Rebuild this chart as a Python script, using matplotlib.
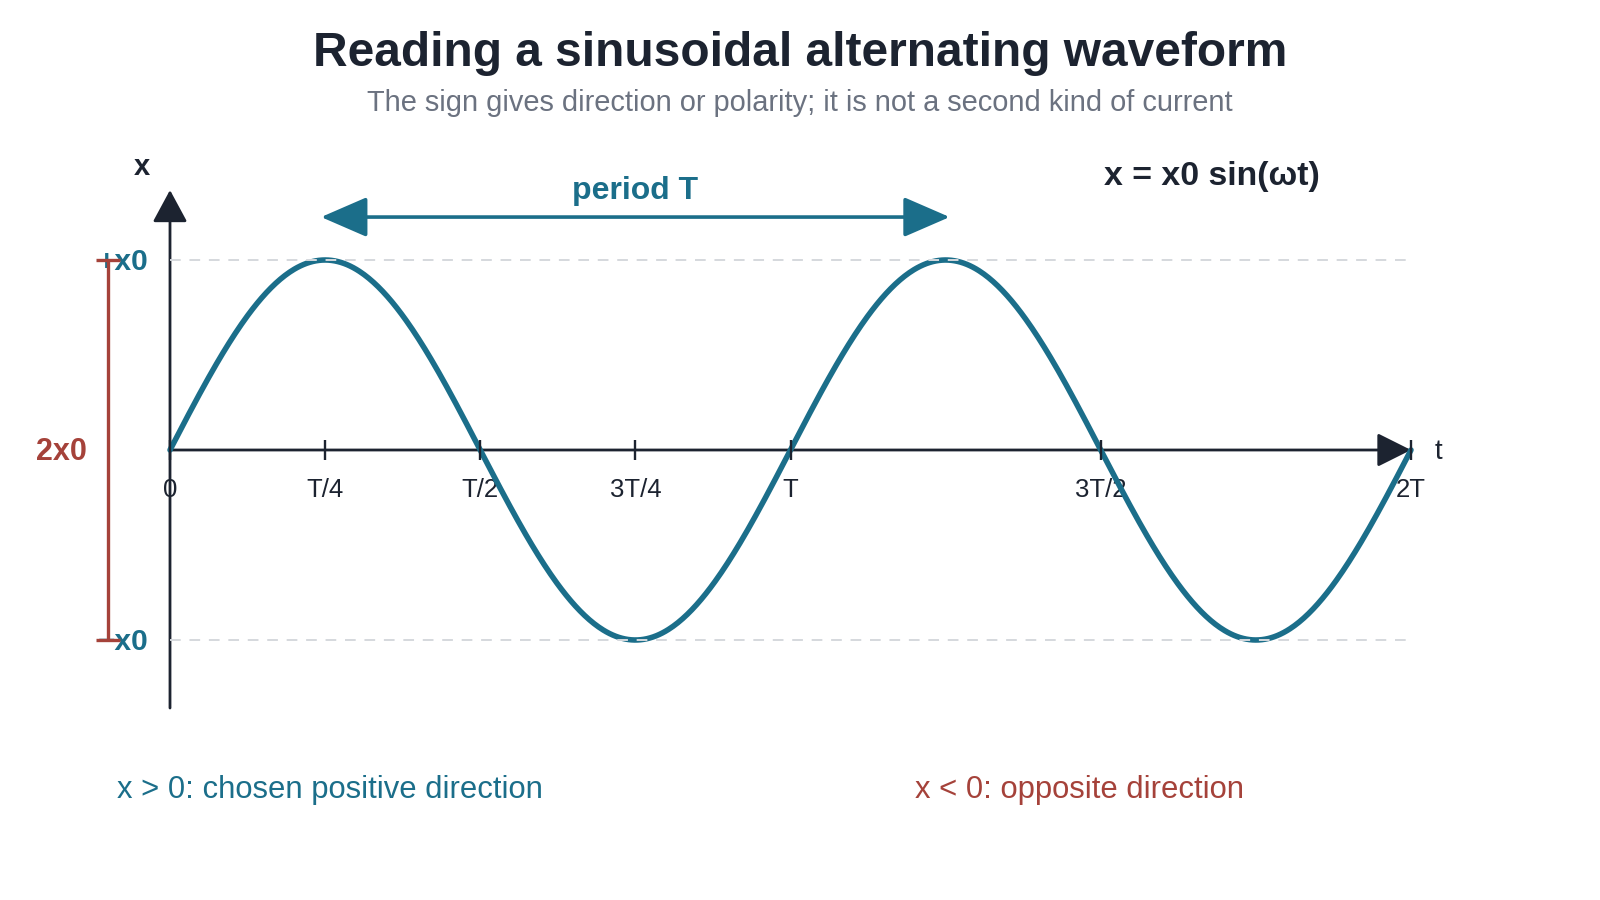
import numpy as np
import matplotlib.pyplot as plt

plt.rcParams['font.family'] = ['Liberation Sans', 'DejaVu Sans']

# waveform x = x0 sin(wt), drawn over two periods (x0 = 1, T = 1)
amplitude = 1.0
period = 1.0
n_periods = 2
tick_pos = [0, 0.25, 0.5, 0.75, 1.0, 1.5, 2.0]
tick_labels = ['0', 'T/4', 'T/2', '3T/4', 'T', '3T/2', '2T']
level_pos = [1.0, -1.0]
level_labels = ['+x0', '\u2212x0']
period_span = [0.25, 1.25]

TEAL = '#1b6e8a'
RED = '#a5423a'
DARK = '#1c2330'
GRAY = '#6b7280'
GRID = '#d5d8dd'

t = np.linspace(0, n_periods * period, 800)
x = amplitude * np.sin(2 * np.pi * t / period)

fig = plt.figure(figsize=(16, 9), dpi=100)
ax = fig.add_axes([0, 0, 1, 1])
# layout: t=0 at 170px, 2T at 1411px, x=0 at 450px, x0 = 190px
ax.set_xlim(-170 / 620.5, 1430 / 620.5)
ax.set_ylim(-450 / 190, 450 / 190)
ax.axis('off')

# title + subtitle
fig.text(0.5, 1 - 53 / 900, 'Reading a sinusoidal alternating waveform',
         ha='center', va='center', fontsize=34.5, weight='bold', color=DARK)
fig.text(0.5, 1 - 103 / 900,
         'The sign gives direction or polarity; it is not a second kind of current',
         ha='center', va='center', fontsize=20.9, color=GRAY)

# axes with arrow heads
ax.annotate('', xy=(0, 1.368), xytext=(0, -1.358),
            arrowprops=dict(arrowstyle='-|>,head_length=2.0,head_width=1.08',
                            mutation_scale=10, lw=2, color=DARK,
                            shrinkA=0, shrinkB=0), zorder=3)
ax.annotate('', xy=(tick_pos[-1], 0), xytext=(0, 0),
            arrowprops=dict(arrowstyle='-|>,head_length=2.1,head_width=1.05',
                            mutation_scale=10, lw=2, color=DARK,
                            shrinkA=0, shrinkB=0), zorder=3)
ax.text(-0.045, 1.487, 'x', ha='center', va='center', fontsize=21,
        weight='bold', color=DARK)
ax.text(2.0435, -0.01, 't', ha='center', va='center', fontsize=20, color=DARK)

# the waveform
ax.plot(t, x, color=TEAL, lw=4, solid_capstyle='round', zorder=4)

# ticks on the time axis
ax.vlines(tick_pos, -0.0526, 0.0526, color=DARK, lw=1.7, zorder=5)
for p, lab in zip(tick_pos, tick_labels):
    ax.text(p, -0.212, lab, ha='center', va='center', fontsize=18.5,
            color=DARK, zorder=3)

# +x0 / -x0 levels
ax.hlines(level_pos, 0, n_periods * period, colors=GRID,
          linestyles=(0, (5.5, 4.5)), lw=1.4, zorder=6)
for lv, lab in zip(level_pos, level_labels):
    ax.text(-0.034, lv - 0.011, lab, ha='right', va='center', fontsize=21.5,
            weight='bold', color=TEAL, zorder=3)

# peak-to-peak bracket
bx = -0.1
ax.vlines(bx, level_pos[1], level_pos[0], color=RED, lw=2.4, zorder=7)
ax.hlines(level_pos, bx - 0.02, bx + 0.02, color=RED, lw=2.4, zorder=7)
ax.text(-0.1757, -0.011, '2x0', ha='center', va='center', fontsize=22,
        weight='bold', color=RED)

# period arrow (small pad so the tips land on T/4 and 5T/4)
pad = 0.0065
ax.annotate('', xy=(period_span[1] + pad, 1.226),
            xytext=(period_span[0] - pad, 1.226),
            arrowprops=dict(arrowstyle='<|-|>,head_length=2.88,head_width=1.25',
                            mutation_scale=10, lw=2.6, color=TEAL,
                            shrinkA=0, shrinkB=0))
ax.text(np.mean(period_span), 1.363, 'period T', ha='center', va='center',
        fontsize=23, weight='bold', color=TEAL)

# formula
ax.text(1.505, 1.437, 'x = x0 sin(\u03c9t)', ha='left', va='center',
        fontsize=24.4, weight='bold', color=DARK)

# sign notes
ax.text(-0.0854, -1.79, 'x > 0: chosen positive direction', ha='left',
        va='center', fontsize=22.3, color=TEAL)
ax.text(1.2006, -1.79, 'x < 0: opposite direction', ha='left',
        va='center', fontsize=22.3, color=RED)

fig.savefig('out.png', dpi=100)
